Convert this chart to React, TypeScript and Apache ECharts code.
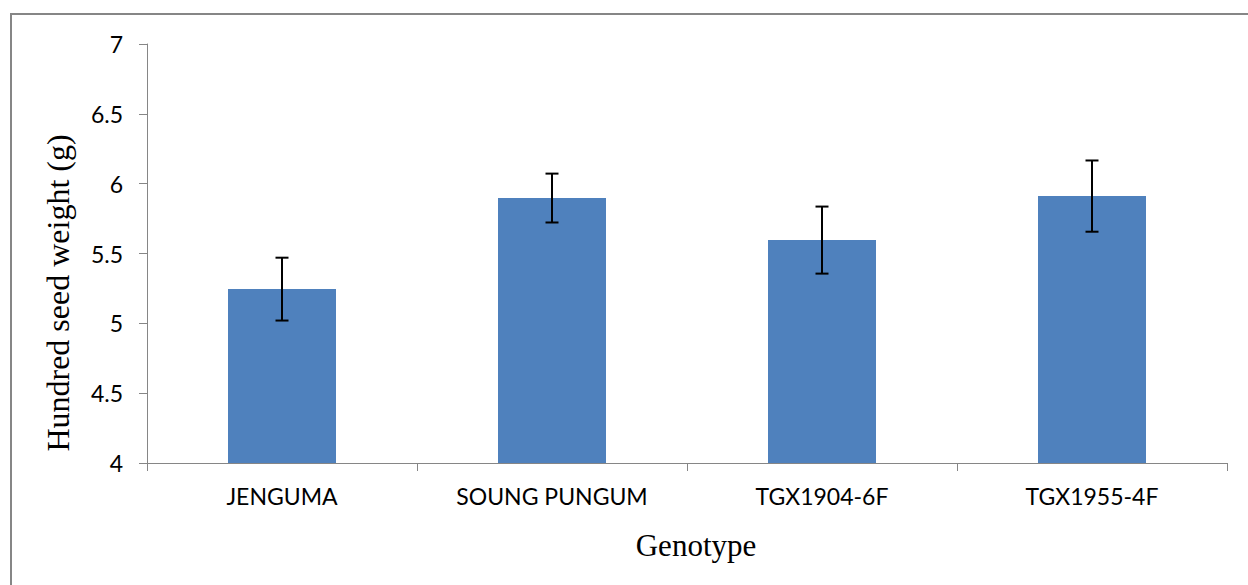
import React, { useEffect, useRef } from "react";
import * as echarts from "echarts";

const categories = ["JENGUMA", "SOUNG PUNGUM", "TGX1904-6F", "TGX1955-4F"];
const means = [5.245, 5.897, 5.596, 5.911];
const errors = [0.225, 0.175, 0.24, 0.255];
const yTicks = { min: 4, max: 7, interval: 0.5 };
const yTitle = "Hundred seed weight (g)";
const xTitle = "Genotype";

export default function App() {
  const ref = useRef<HTMLDivElement>(null);
  useEffect(() => {
    if (!ref.current) return;
    const chart = echarts.init(ref.current, undefined, { renderer: "svg" });
    const axisGray = "#868686";
    chart.setOption({
      animation: false,
      backgroundColor: "#ffffff",
      grid: { left: 147, right: 21, top: 44, bottom: 122, containLabel: false },
      xAxis: {
        type: "category",
        data: categories,
        boundaryGap: true,
        axisLine: { show: true, lineStyle: { color: axisGray, width: 1 } },
        axisTick: { show: true, length: 8, lineStyle: { color: axisGray } },
        axisLabel: { color: "#000", fontFamily: "Lato", fontSize: 23, margin: 21 },
        splitLine: { show: false },
      },
      yAxis: {
        type: "value",
        min: yTicks.min,
        max: yTicks.max,
        interval: yTicks.interval,
        axisLine: { show: true, lineStyle: { color: axisGray, width: 1 } },
        axisTick: { show: true, length: 8, lineStyle: { color: axisGray } },
        axisLabel: { color: "#000", fontFamily: "Lato", fontSize: 23, margin: 24 },
        splitLine: { show: false },
      },
      graphic: [
        {
          type: "rect",
          shape: { x: 11, y: 14, width: 1400, height: 800 },
          style: { fill: "none", stroke: axisGray, lineWidth: 2 },
          silent: true,
        },
        {
          type: "text",
          x: 58,
          y: 293,
          rotation: Math.PI / 2,
          style: {
            text: yTitle,
            fontFamily: "Liberation Serif",
            fontSize: 32,
            fill: "#000",
            align: "center",
            verticalAlign: "middle",
          },
        },
        {
          type: "text",
          x: 696,
          y: 545,
          style: {
            text: xTitle,
            fontFamily: "Liberation Serif",
            fontSize: 31,
            fill: "#000",
            align: "center",
            verticalAlign: "middle",
          },
        },
      ],
      series: [
        {
          type: "bar",
          data: means,
          barWidth: "40%",
          itemStyle: { color: "#4F81BD" },
        },
        {
          type: "custom",
          data: categories.map((c, i) => [i, means[i] - errors[i], means[i] + errors[i]]),
          renderItem: (params: any, api: any) => {
            const x = api.value(0);
            const lo = api.coord([x, api.value(1)]);
            const hi = api.coord([x, api.value(2)]);
            const hw = 6.5;
            const style = { stroke: "#000", lineWidth: 2 };
            return {
              type: "group",
              children: [
                { type: "line", shape: { x1: lo[0], y1: lo[1], x2: hi[0], y2: hi[1] }, style },
                { type: "line", shape: { x1: hi[0] - hw, y1: hi[1], x2: hi[0] + hw, y2: hi[1] }, style },
                { type: "line", shape: { x1: lo[0] - hw, y1: lo[1], x2: lo[0] + hw, y2: lo[1] }, style },
              ],
            };
          },
          z: 10,
        },
      ],
    });
    return () => chart.dispose();
  }, []);
  return (
    <div
      ref={ref}
      style={{ position: "fixed", left: 0, top: 0, width: 1248, height: 585 }}
    />
  );
}
